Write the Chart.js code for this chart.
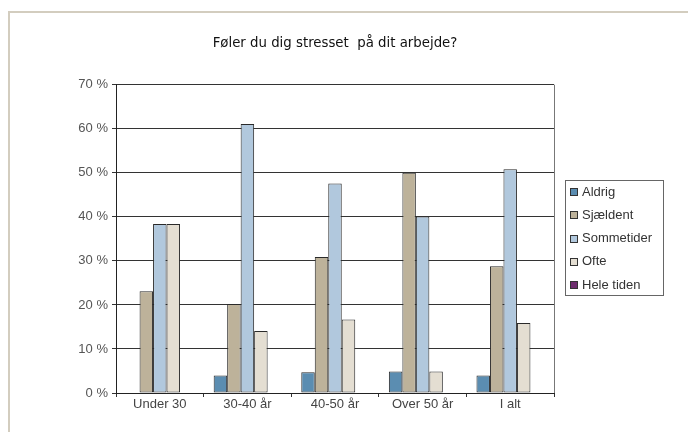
<!DOCTYPE html>
<html>
<head>
<meta charset="utf-8">
<script src="https://cdn.jsdelivr.net/npm/chart.js@4"></script>
<style>
  body { margin: 0; background: #fff; }
</style>
</head>
<body>
<canvas id="graf" width="688" height="432"></canvas>
<script>
const kategorier = ['Under 30', '30-40 år', '40-50 år', 'Over 50 år', 'I alt'];
const aldrig = [0, 4.0, 4.7, 4.9, 4.0];
const sjaeldent = [23.1, 20.2, 30.9, 50.0, 28.8];
const sommetider = [38.4, 61.1, 47.6, 40.1, 50.8];
const ofte = [38.4, 14.1, 16.7, 4.9, 15.9];
const heleTiden = [0, 0, 0, 0, 0];

const serieNavne = ['Aldrig', 'Sjældent', 'Sommetider', 'Ofte', 'Hele tiden'];
const farver = ['#5b8db1', '#bdb29a', '#b1c8dd', '#e4ded2', '#6e2c6e'];

// ramme rundt om hele figuren + kant på plotområdet + forklaring
const rammePlugin = {
  id: 'ramme',
  beforeDraw(chart) {
    const ctx = chart.ctx;
    ctx.save();
    ctx.fillStyle = '#fff';
    ctx.fillRect(0, 0, chart.width, chart.height);
    ctx.strokeStyle = '#d3cdbf';
    ctx.lineWidth = 2;
    ctx.beginPath();
    ctx.moveTo(9, chart.height);
    ctx.lineTo(9, 12);
    ctx.lineTo(chart.width, 12);
    ctx.stroke();
    ctx.restore();
  },
  afterDraw(chart) {
    const ctx = chart.ctx;
    const a = chart.chartArea;
    ctx.save();
    ctx.strokeStyle = '#777';
    ctx.lineWidth = 1;
    ctx.beginPath();
    ctx.moveTo(Math.round(a.right) + 0.5, a.top);
    ctx.lineTo(Math.round(a.right) + 0.5, a.bottom);
    ctx.stroke();

    // forklaring
    ctx.strokeStyle = '#666';
    ctx.strokeRect(565.5, 180.5, 98, 115);
    ctx.font = '13px "Liberation Sans", Arial, sans-serif';
    ctx.textBaseline = 'middle';
    chart.data.datasets.forEach((ds, i) => {
      const y = 192 + i * 23.3;
      ctx.fillStyle = ds.backgroundColor;
      ctx.fillRect(570.5, Math.round(y) - 3.5, 7, 7);
      ctx.strokeStyle = '#333';
      ctx.strokeRect(570.5, Math.round(y) - 3.5, 7, 7);
      ctx.fillStyle = '#333';
      ctx.fillText(ds.label, 582, y);
    });
    ctx.restore();
  }
};

const serier = [aldrig, sjaeldent, sommetider, ofte, heleTiden];

new Chart(document.getElementById('graf'), {
  type: 'bar',
  data: {
    labels: kategorier,
    datasets: serier.map((d, i) => ({
      label: serieNavne[i],
      data: d,
      backgroundColor: farver[i],
      borderColor: '#2a2a2a',
      borderWidth: 1,
      borderSkipped: false,
      categoryPercentage: 0.77,
      barPercentage: 1.0
    }))
  },
  options: {
    responsive: false,
    animation: false,
    layout: { padding: { left: 0, right: 134, top: 0, bottom: 0 } },
    plugins: {
      legend: { display: false },
      tooltip: { enabled: false },
      title: {
        display: true,
        text: 'Føler du dig stresset  på dit arbejde?',
        fullSize: false,
        color: '#111',
        font: { family: '"DejaVu Sans Condensed", "DejaVu Sans", sans-serif', size: 14.8, weight: 'normal' },
        padding: { top: 34, bottom: 33 }
      }
    },
    scales: {
      x: {
        afterFit: (s) => { s.height = 39; },
        grid: { drawOnChartArea: false, offset: true, tickLength: 4, color: '#333' },
        border: { color: '#222', width: 1 },
        ticks: {
          color: '#444',
          padding: 0,
          font: { family: '"Liberation Sans", Arial, sans-serif', size: 13 }
        }
      },
      y: {
        min: 0,
        max: 70,
        afterFit: (s) => { s.width = 116; },
        grid: { color: '#333', tickLength: 4 },
        border: { color: '#222', width: 1 },
        ticks: {
          stepSize: 10,
          color: '#555',
          padding: 4,
          font: { family: '"Liberation Sans", Arial, sans-serif', size: 13 },
          callback: (v) => v + ' %'
        }
      }
    }
  },
  plugins: [rammePlugin]
});
</script>
</body>
</html>
